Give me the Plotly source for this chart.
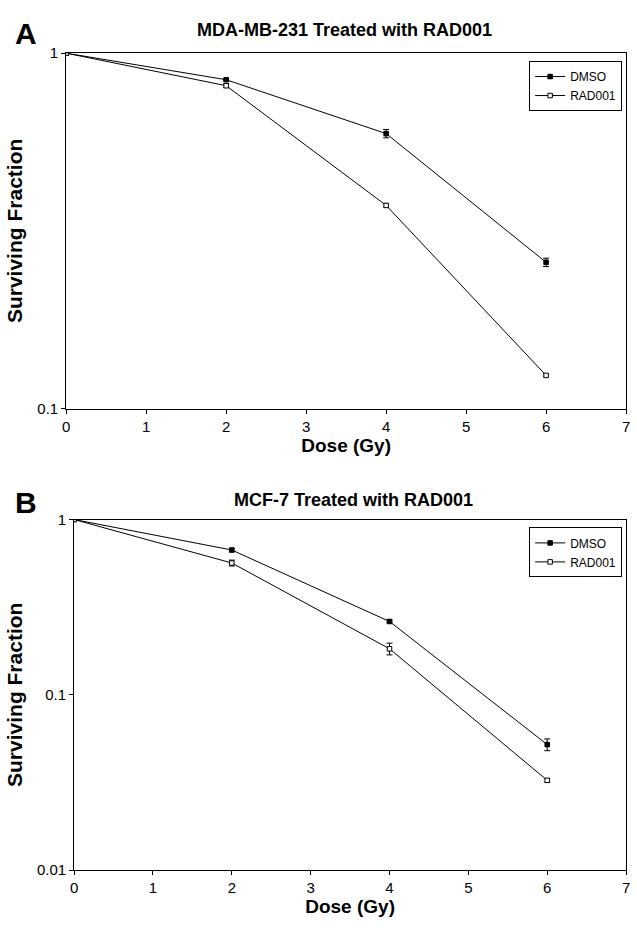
import plotly.graph_objects as go

dose = [0, 2, 4, 6]

# Panel A: MDA-MB-231
a_dmso = [1.0, 0.842, 0.594, 0.258]
a_dmso_err = [0.0, 0.006, 0.016, 0.007]
a_rad = [1.0, 0.81, 0.373, 0.124]
a_rad_err = [0.0, 0.010, 0.004, 0.001]

# Panel B: MCF-7
b_dmso = [1.0, 0.67, 0.262, 0.052]
b_dmso_err = [0.0, 0.015, 0.004, 0.004]
b_rad = [1.0, 0.565, 0.183, 0.0325]
b_rad_err = [0.0, 0.022, 0.014, 0.0008]

x_ticks = [0, 1, 2, 3, 4, 5, 6, 7]

W, H = 637, 935
FONT = "Liberation Sans, Arial, sans-serif"

fig = go.Figure()

def add_series(x, y, err, name, filled, xa, ya):
    fig.add_trace(go.Scatter(
        x=x, y=y, name=name, mode="lines+markers",
        xaxis=xa, yaxis=ya, showlegend=True,
        legend="legend" if xa == "x" else "legend2",
        line=dict(color="black", width=1),
        marker=dict(symbol="square", size=4.5,
                    color="black" if filled else "white",
                    line=dict(color="black", width=1)),
        error_y=dict(type="data", array=err, visible=True,
                     color="black", thickness=1, width=3),
    ))

add_series(dose, a_dmso, a_dmso_err, "DMSO", True, "x", "y")
add_series(dose, a_rad, a_rad_err, "RAD001", False, "x", "y")
add_series(dose, b_dmso, b_dmso_err, "DMSO", True, "x2", "y2")
add_series(dose, b_rad, b_rad_err, "RAD001", False, "x2", "y2")

def px_x(p):
    return p / W

def px_y(p):
    return 1 - p / H

axis_common = dict(showline=True, linecolor="black", linewidth=1, mirror=True,
                   ticks="outside", ticklen=4, tickcolor="black",
                   showgrid=False, zeroline=False, ticklabeloverflow="allow",
                   tickfont=dict(family=FONT, size=15, color="black"))

fig.update_layout(
    width=W, height=H,
    margin=dict(l=0, r=0, t=0, b=0),
    paper_bgcolor="white", plot_bgcolor="white",
    font=dict(family=FONT, color="black"),
    xaxis=dict(domain=[px_x(63), px_x(630)], range=[0, 7.0001], tickvals=x_ticks,
               anchor="y",
               title=dict(text="<b>Dose (Gy)</b>", font=dict(size=19), standoff=2),
               **axis_common),
    yaxis=dict(domain=[px_y(407), px_y(45)], type="log", range=[-1, 0],
               tickvals=[0.1, 1], ticktext=["0.1", "1"], anchor="x",
               title=dict(text="<b>Surviving Fraction</b>", font=dict(size=21), standoff=8),
               **axis_common),
    xaxis2=dict(domain=[px_x(71), px_x(630)], range=[0, 7.0001], tickvals=x_ticks,
                anchor="y2",
                title=dict(text="<b>Dose (Gy)</b>", font=dict(size=19), standoff=2),
                **axis_common),
    yaxis2=dict(domain=[px_y(877), px_y(520)], type="log", range=[-2, 0],
                tickvals=[0.01, 0.1, 1], ticktext=["0.01", "0.1", "1"], anchor="x2",
                title=dict(text="<b>Surviving Fraction</b>", font=dict(size=21), standoff=8),
                **axis_common),
    legend=dict(x=px_x(626), y=px_y(53), xanchor="right", yanchor="top",
                bordercolor="black", borderwidth=1, bgcolor="white",
                font=dict(family=FONT, size=12), tracegroupgap=0,
                itemwidth=30),
    legend2=dict(x=px_x(626), y=px_y(528), xanchor="right", yanchor="top",
                 bordercolor="black", borderwidth=1, bgcolor="white",
                 font=dict(family=FONT, size=12), tracegroupgap=0,
                 itemwidth=30),
    annotations=[
        dict(text="<b>A</b>", x=px_x(9), y=px_y(25), xref="paper", yref="paper",
             xanchor="left", yanchor="middle", showarrow=False,
             font=dict(family=FONT, size=30)),
        dict(text="<b>MDA-MB-231 Treated with RAD001</b>", x=px_x(345), y=px_y(21),
             xref="paper", yref="paper", xanchor="center", yanchor="middle",
             showarrow=False, font=dict(family=FONT, size=18)),
        dict(text="<b>B</b>", x=px_x(9), y=px_y(503), xref="paper", yref="paper",
             xanchor="left", yanchor="middle", showarrow=False,
             font=dict(family=FONT, size=30)),
        dict(text="<b>MCF-7 Treated with RAD001</b>", x=px_x(354), y=px_y(500),
             xref="paper", yref="paper", xanchor="center", yanchor="middle",
             showarrow=False, font=dict(family=FONT, size=18)),
    ],
)

# remove the browser's default page margin so the figure sits at the window origin
fig.write_html(
    "out.html",
    config={"displayModeBar": False},
    post_script="document.body.style.margin='0';document.body.style.overflow='hidden';",
)
